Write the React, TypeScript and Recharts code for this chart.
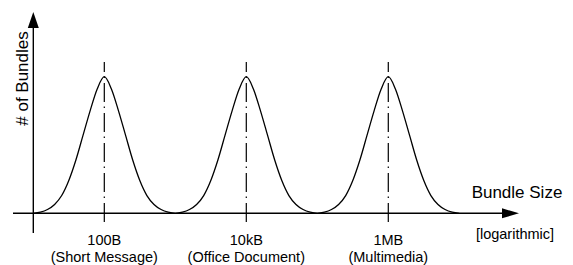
import React from 'react';
import { LineChart, Line, XAxis, YAxis, ReferenceLine } from 'recharts';

// Bundle size on a log scale (decades, arbitrary units): troughs at 0,2,4,6, peaks at 1,3,5
const bundleSize = [
  0, 0.1, 0.2, 0.3, 0.4, 0.5, 0.6, 0.7, 0.8, 0.9,
  1, 1.1, 1.2, 1.3, 1.4, 1.5, 1.6, 1.7, 1.8, 1.9,
  2, 2.1, 2.2, 2.3, 2.4, 2.5, 2.6, 2.7, 2.8, 2.9,
  3, 3.1, 3.2, 3.3, 3.4, 3.5, 3.6, 3.7, 3.8, 3.9,
  4, 4.1, 4.2, 4.3, 4.4, 4.5, 4.6, 4.7, 4.8, 4.9,
  5, 5.1, 5.2, 5.3, 5.4, 5.5, 5.6, 5.7, 5.8, 5.9,
  6,
];

// Number of bundles (relative)
const bundleCount = [
  0, 0.8, 2.8, 6.5, 13, 24, 39, 57, 75, 91,
  100, 91, 75, 57, 39, 24, 13, 6.5, 2.8, 0.8,
  0, 0.8, 2.8, 6.5, 13, 24, 39, 57, 75, 91,
  100, 91, 75, 57, 39, 24, 13, 6.5, 2.8, 0.8,
  0, 0.8, 2.8, 6.5, 13, 24, 39, 57, 75, 91,
  100, 91, 75, 57, 39, 24, 13, 6.5, 2.8, 0.8,
  0,
];

const peakPositions = [1, 3, 5];
const peakSizeLabels = ['100B', '10kB', '1MB'];
const peakKindLabels = ['(Short Message)', '(Office Document)', '(Multimedia)'];

const xAxisTitle = 'Bundle Size';
const xAxisNote = '[logarithmic]';
const yAxisTitle = '# of Bundles';

const data = bundleSize.map((s, i) => ({ size: s, count: bundleCount[i] }));

const FONT = '"Liberation Sans", Arial, Helvetica, sans-serif';

const XAxisArrow = (props: any) => {
  const { x1, y1, x2 } = props;
  const xl = Math.min(x1, x2);
  const xr = Math.max(x1, x2);
  const y = y1;
  return (
    <g>
      <line x1={xl} y1={y} x2={xr - 14} y2={y} stroke="#000" strokeWidth={1.4} />
      <polygon points={`${xr},${y} ${xr - 17},${y - 5} ${xr - 17},${y + 5}`} fill="#000" />
      <text x={517} y={198} textAnchor="middle" fontSize={17} fontFamily={FONT} fill="#000">
        {xAxisTitle}
      </text>
      <text x={515} y={239} textAnchor="middle" fontSize={14.5} fontFamily={FONT} fill="#000">
        {xAxisNote}
      </text>
    </g>
  );
};

const YAxisArrow = (props: any) => {
  const { x1, y1, y2 } = props;
  const yt = Math.min(y1, y2);
  const yb = Math.max(y1, y2);
  const x = x1;
  return (
    <g>
      <line x1={x} y1={yb} x2={x} y2={yt + 13} stroke="#000" strokeWidth={1.4} />
      <polygon points={`${x},${yt} ${x - 5.5},${yt + 16} ${x + 5.5},${yt + 16}`} fill="#000" />
      <text
        x={28}
        y={78.5}
        transform="rotate(-90, 28, 78.5)"
        textAnchor="middle"
        fontSize={17}
        fontFamily={FONT}
        fill="#000"
      >
        {yAxisTitle}
      </text>
    </g>
  );
};

const makePeakShape = (idx: number) => (props: any) => {
  const { x1, y1, x2, y2 } = props;
  const yt = Math.min(y1, y2);
  const yb = Math.max(y1, y2);
  return (
    <g>
      <line
        x1={x1}
        y1={yt}
        x2={x2}
        y2={yb}
        stroke="#000"
        strokeWidth={1.2}
        strokeDasharray="19 4.5 1.5 5"
        strokeDashoffset={9}
      />
      <text x={x1} y={245} textAnchor="middle" fontSize={14.5} fontFamily={FONT} fill="#000">
        {peakSizeLabels[idx]}
      </text>
      <text x={x1} y={261.5} textAnchor="middle" fontSize={14.5} fontFamily={FONT} fill="#000">
        {peakKindLabels[idx]}
      </text>
    </g>
  );
};

export default function App() {
  return (
    <div style={{ position: 'absolute', left: 0, top: 0, width: 573, height: 265, background: '#fff' }}>
      <LineChart
        width={573}
        height={265}
        data={data}
        margin={{ top: 12, right: 54, bottom: 32, left: 13 }}
      >
        <XAxis dataKey="size" type="number" domain={[-0.286, 6.841]} hide allowDataOverflow />
        <YAxis type="number" domain={[-14.42, 147.36]} hide allowDataOverflow />
        <ReferenceLine y={0} shape={XAxisArrow} ifOverflow="visible" />
        <ReferenceLine x={0} shape={YAxisArrow} ifOverflow="visible" />
        {peakPositions.map((p, i) => (
          <ReferenceLine
            key={p}
            segment={[
              { x: p, y: 110.8 },
              { x: p, y: -7.8 },
            ]}
            shape={makePeakShape(i)}
            ifOverflow="visible"
          />
        ))}
        <Line
          type="monotone"
          dataKey="count"
          stroke="#000"
          strokeWidth={1.3}
          dot={false}
          isAnimationActive={false}
        />
      </LineChart>
    </div>
  );
}
